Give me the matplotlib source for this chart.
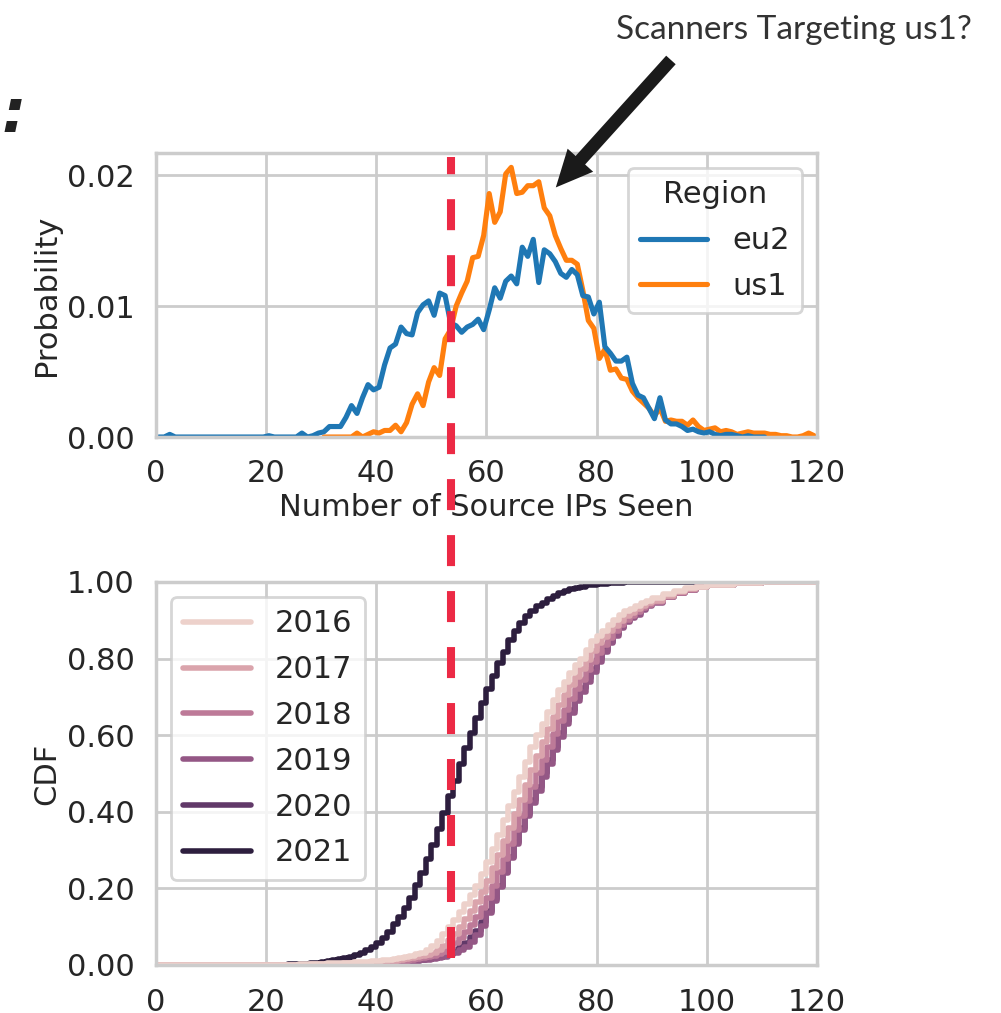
import os
import numpy as np
import matplotlib
matplotlib.use("Agg")
import matplotlib.pyplot as plt
from matplotlib import font_manager
import seaborn as sns
from matplotlib.lines import Line2D
from matplotlib.patches import FancyArrow

# ---- data ----
# probability per bin of "number of source IPs seen" (bins start at 0 for eu2, 30 for us1)
eu2_first_bin = 0
eu2_prob = [
    0, 0, 0.0002, 0, 0, 0, 0, 0, 0, 0,
    0, 0, 0, 0, 0, 0, 0, 0, 0, 0,
    0.0001, 0, 0, 0, 0, 0, 0.0003, 0, 0.0001, 0.0003,
    0.0004, 0.0008, 0.0008, 0.0008, 0.0015, 0.0024, 0.0018, 0.0030, 0.0040, 0.0036,
    0.0038, 0.0055, 0.0068, 0.0071, 0.0084, 0.0079, 0.0078, 0.0095, 0.0101, 0.0104,
    0.0093, 0.0110, 0.0108, 0.0087, 0.0085, 0.0080, 0.0084, 0.0086, 0.0090, 0.0082,
    0.0097, 0.0114, 0.0106, 0.0119, 0.0123, 0.0117, 0.0145, 0.0138, 0.0151, 0.0118,
    0.0143, 0.0140, 0.0134, 0.0125, 0.0122, 0.0128, 0.0124, 0.0108, 0.0107, 0.0094,
    0.0103, 0.0069, 0.0064, 0.0058, 0.0058, 0.0061, 0.0041, 0.0032, 0.0030, 0.0022,
    0.0014, 0.0030, 0.0013, 0.0010, 0.0010, 0.0008, 0.0005, 0.0006, 0.0004, 0.0003,
    0.0004, 0.0002, 0.0001, 0.0002, 0.0002, 0.0001, 0, 0.0001, 0, 0,
    0,
]
us1_first_bin = 30
us1_prob = [
    0, 0, 0, 0, 0, 0, 0.0003, 0, 0.0002, 0.0004,
    0.0003, 0.0005, 0.0005, 0.0009, 0.0004, 0.0011, 0.0025, 0.0033, 0.0024, 0.0042,
    0.0053, 0.0047, 0.0075, 0.0082, 0.0100, 0.0110, 0.0119, 0.0137, 0.0138, 0.0154,
    0.0186, 0.0164, 0.0172, 0.0201, 0.0206, 0.0186, 0.0187, 0.0192, 0.0192, 0.0195,
    0.0175, 0.0169, 0.0154, 0.0144, 0.0135, 0.0135, 0.0132, 0.0112, 0.0089, 0.0083,
    0.0060, 0.0067, 0.0051, 0.0052, 0.0045, 0.0044, 0.0035, 0.0030, 0.0026, 0.0022,
    0.0016, 0.0022, 0.0012, 0.0013, 0.0012, 0.0012, 0.0009, 0.0013, 0.0008, 0.0005,
    0.0006, 0.0007, 0.0004, 0.0005, 0.0004, 0.0002, 0.0003, 0.0004, 0.0003, 0.0003,
    0.0003, 0.0002, 0.0002, 0.0001, 0.0001, 0, 0, 0.0001, 0.0003, 0.0001,
]

# CDF per year
years = [2016, 2017, 2018, 2019, 2020, 2021]
cdf_x = [0, 20, 24, 26, 28] + list(range(30, 91)) + [92, 94, 96, 98, 100, 105, 110, 120]
cdf_2016 = [0, 0.001, 0.001, 0.002, 0.002,
            0.003, 0.004, 0.004, 0.005, 0.005, 0.006, 0.007, 0.008, 0.009, 0.010,
            0.011, 0.012, 0.014, 0.016, 0.018, 0.021, 0.024, 0.028, 0.032, 0.040,
            0.050, 0.063, 0.080, 0.100, 0.118, 0.138, 0.160, 0.183, 0.207, 0.237,
            0.268, 0.303, 0.340, 0.378, 0.415, 0.452, 0.490, 0.530, 0.570, 0.600,
            0.630, 0.660, 0.692, 0.718, 0.740, 0.762, 0.782, 0.800, 0.823, 0.845,
            0.860, 0.873, 0.888, 0.900, 0.915, 0.923, 0.930, 0.937, 0.945, 0.951,
            0.957,
            0.968, 0.976, 0.983, 0.988, 0.992, 0.997, 0.999, 1.0]
cdf_2017 = [0, 0.001, 0.001, 0.001, 0.002,
            0.002, 0.003, 0.003, 0.003, 0.004, 0.004, 0.005, 0.006, 0.006, 0.007,
            0.008, 0.009, 0.010, 0.011, 0.013, 0.015, 0.017, 0.020, 0.023, 0.027,
            0.032, 0.039, 0.050, 0.066, 0.082, 0.100, 0.120, 0.142, 0.165, 0.190,
            0.220, 0.252, 0.288, 0.323, 0.358, 0.395, 0.432, 0.470, 0.508, 0.545,
            0.582, 0.615, 0.648, 0.678, 0.705, 0.730, 0.752, 0.774, 0.797, 0.820,
            0.840, 0.857, 0.872, 0.886, 0.899, 0.910, 0.920, 0.929, 0.937, 0.944,
            0.951,
            0.963, 0.973, 0.981, 0.987, 0.991, 0.997, 0.999, 1.0]
cdf_2018 = [0, 0.0, 0.001, 0.001, 0.001,
            0.001, 0.002, 0.002, 0.002, 0.003, 0.003, 0.004, 0.004, 0.005, 0.005,
            0.006, 0.007, 0.008, 0.009, 0.010, 0.011, 0.013, 0.015, 0.017, 0.020,
            0.023, 0.028, 0.035, 0.045, 0.057, 0.070, 0.086, 0.104, 0.124, 0.148,
            0.176, 0.207, 0.242, 0.278, 0.315, 0.352, 0.390, 0.428, 0.465, 0.500,
            0.536, 0.570, 0.604, 0.637, 0.667, 0.695, 0.721, 0.745, 0.769, 0.792,
            0.815, 0.836, 0.855, 0.872, 0.888, 0.901, 0.912, 0.922, 0.931, 0.940,
            0.948,
            0.961, 0.972, 0.980, 0.986, 0.991, 0.997, 0.999, 1.0]
cdf_2019 = [0, 0.0, 0.0, 0.001, 0.001,
            0.001, 0.001, 0.002, 0.002, 0.002, 0.002, 0.003, 0.003, 0.003, 0.004,
            0.004, 0.005, 0.005, 0.006, 0.007, 0.008, 0.009, 0.010, 0.012, 0.014,
            0.016, 0.019, 0.022, 0.026, 0.030, 0.038, 0.048, 0.060, 0.078, 0.102,
            0.135, 0.168, 0.203, 0.240, 0.280, 0.315, 0.352, 0.388, 0.422, 0.455,
            0.490, 0.525, 0.560, 0.595, 0.628, 0.658, 0.688, 0.714, 0.740, 0.765,
            0.792, 0.817, 0.840, 0.860, 0.879, 0.895, 0.905, 0.915, 0.927, 0.937,
            0.945,
            0.960, 0.971, 0.980, 0.986, 0.991, 0.997, 0.999, 1.0]
cdf_2020 = [0, 0.0, 0.0, 0.001, 0.001,
            0.001, 0.001, 0.002, 0.002, 0.002, 0.002, 0.003, 0.003, 0.004, 0.004,
            0.005, 0.005, 0.006, 0.007, 0.008, 0.009, 0.010, 0.011, 0.013, 0.015,
            0.018, 0.021, 0.025, 0.031, 0.038, 0.047, 0.058, 0.072, 0.090, 0.112,
            0.140, 0.172, 0.207, 0.244, 0.282, 0.320, 0.358, 0.395, 0.430, 0.465,
            0.500, 0.535, 0.570, 0.605, 0.637, 0.667, 0.696, 0.722, 0.748, 0.773,
            0.798, 0.822, 0.844, 0.864, 0.882, 0.897, 0.908, 0.918, 0.929, 0.939,
            0.947,
            0.961, 0.972, 0.980, 0.986, 0.991, 0.997, 0.999, 1.0]
cdf_2021 = [0, 0.001, 0.002, 0.003, 0.005,
            0.008, 0.011, 0.014, 0.016, 0.019, 0.022, 0.026, 0.031, 0.038, 0.047,
            0.057, 0.070, 0.087, 0.106, 0.125, 0.148, 0.176, 0.208, 0.240, 0.276,
            0.314, 0.355, 0.398, 0.440, 0.480, 0.525, 0.567, 0.606, 0.645, 0.683,
            0.720, 0.755, 0.788, 0.818, 0.848, 0.873, 0.893, 0.910, 0.924, 0.936,
            0.946, 0.955, 0.963, 0.970, 0.976, 0.981, 0.985, 0.988, 0.991, 0.993,
            0.995, 0.996, 0.997, 0.998, 0.998, 0.999, 0.999, 0.999, 1.0, 1.0,
            1.0,
            1.0, 1.0, 1.0, 1.0, 1.0, 1.0, 1.0, 1.0]
cdf_values = [cdf_2016, cdf_2017, cdf_2018, cdf_2019, cdf_2020, cdf_2021]

threshold = 53.6  # red dashed cut-off

# ---- style ----
sns.set_theme(context="poster", style="whitegrid")
dejavu = os.path.join(matplotlib.get_data_path(), 'fonts', 'ttf', 'DejaVuSans.ttf')
if os.path.exists(dejavu):
    font_manager.fontManager.addfont(dejavu)
plt.rcParams['font.family'] = 'sans-serif'
plt.rcParams['font.sans-serif'] = ['DejaVu Sans']
text_col = '#262626'

fig = plt.figure(figsize=(10.01, 10.13), dpi=100)
ax1 = fig.add_axes([0.1558, 0.5686, 0.6603, 0.2804])
ax2 = fig.add_axes([0.1558, 0.0474, 0.6603, 0.3781])

# top: probability lines
x_eu2 = eu2_first_bin + np.arange(len(eu2_prob)) + 0.5
x_us1 = us1_first_bin + np.arange(len(us1_prob)) + 0.5
l_us1, = ax1.plot(x_us1, us1_prob, color='#ff7f0e', lw=3.7, label='us1')
l_eu2, = ax1.plot(x_eu2, eu2_prob, color='#1f77b4', lw=3.7, label='eu2')
ax1.set_xlim(0, 120)
ax1.set_ylim(0, 0.0217)
ax1.set_yticks([0, 0.01, 0.02])
ax1.set_yticklabels(['%.2f' % v for v in [0, 0.01, 0.02]])
ax1.set_xticks(range(0, 121, 20))
ax1.set_xlabel('Number of Source IPs Seen', fontsize=22, color=text_col)
ax1.set_ylabel('Probability', fontsize=22, color=text_col)
leg1 = ax1.legend(handles=[l_eu2, l_us1], title='Region', loc='upper right',
                  fontsize=22, title_fontsize=22, handlelength=2.2,
                  labelspacing=0.55)

# bottom: CDF per year
pal = sns.cubehelix_palette(len(years))
handles = {}
for yr, col, vals in reversed(list(zip(years, pal, cdf_values))):
    h, = ax2.plot(cdf_x, vals, drawstyle='steps-post', color=col, lw=4.0, label=str(yr))
    handles[yr] = h
ax2.set_xlim(0, 120)
ax2.set_ylim(0, 1)
ax2.set_yticks(np.arange(0, 1.01, 0.2))
ax2.set_yticklabels(['%.2f' % v for v in np.arange(0, 1.01, 0.2)])
ax2.set_xticks(range(0, 121, 20))
ax2.set_ylabel('CDF', fontsize=22, color=text_col)
ax2.legend(handles=[handles[y] for y in years], loc='upper left', fontsize=22,
           handlelength=2.2, labelspacing=0.55)

for ax in (ax1, ax2):
    ax.tick_params(labelsize=22, colors=text_col)
    for s in ax.spines.values():
        s.set_color('#cccccc')
ax2.tick_params(axis='x', pad=4.5)

# red dashed line crossing both panels
xf = 0.1558 + 0.6603 * threshold / 120
fig.add_artist(Line2D([xf, xf], [0.0543, 0.845], transform=fig.transFigure,
                      color='#ec2a45', lw=5.8, linestyle=(0, (3.85, 3.1))))

# annotation and arrow
fig.text(0.793, 1 - 30 / 1013, 'Scanners Targeting us1?', family='Lato',
         fontsize=24, ha='center', va='center', color='#333333')
fig.add_artist(FancyArrow(6.70, 9.52, -1.12, -1.24, width=0.10, head_width=0.30,
                          head_length=0.32, length_includes_head=True,
                          color='#1a1a1a', transform=fig.dpi_scale_trans))
fig.text(14 / 1001, 1 - 115 / 1013, ':', fontsize=44, fontweight='bold',
         style='italic', ha='center', va='center', color='#222222')

fig.savefig('out.png', dpi=100)
